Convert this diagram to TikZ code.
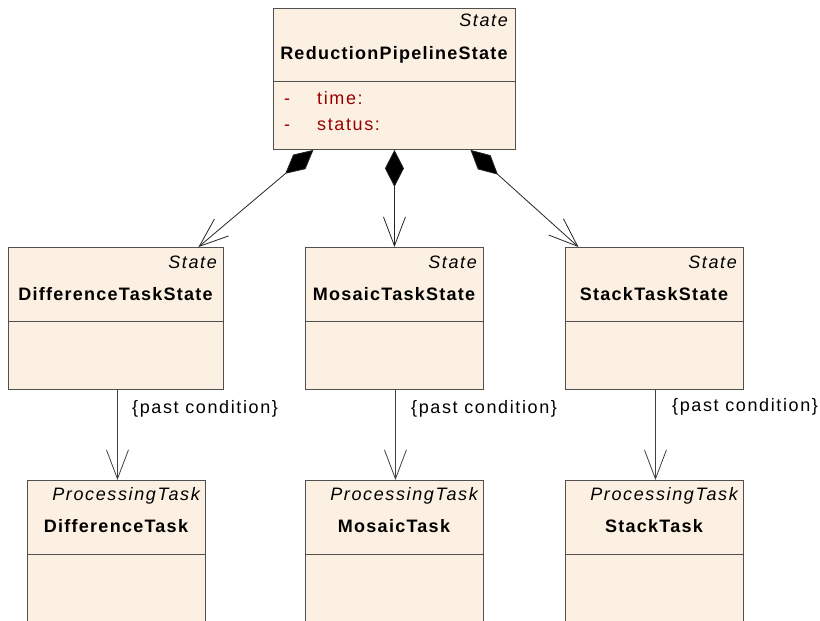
\documentclass[tikz,border=0pt]{standalone}
\usepackage{fontspec}
\setmainfont{Liberation Sans}
\usetikzlibrary{arrows.meta,calc}
\definecolor{boxfill}{RGB}{251,240,226}
\definecolor{boxdraw}{RGB}{80,80,80}
\definecolor{attrred}{RGB}{155,0,0}
\newcommand{\umlreg}{\fontsize{18}{21}\selectfont\addfontfeature{LetterSpace=9}}
\newcommand{\umlit}{\fontsize{18}{21}\selectfont\itshape\addfontfeature{LetterSpace=9}}
\newcommand{\umlbf}{\fontsize{18}{21}\selectfont\bfseries\addfontfeature{LetterSpace=7}}
\tikzset{
  umlbox/.style={draw=boxdraw, fill=boxfill, line width=0.9pt, rectangle, inner sep=0pt, anchor=north west},
  divider/.style={draw=boxdraw, line width=0.9pt},
  stereo/.style={font=\umlit, anchor=base east, inner sep=0pt},
  cname/.style={font=\umlbf, anchor=base, inner sep=0pt},
  attrtext/.style={font=\umlreg, text=attrred, anchor=base west, inner sep=0pt},
  lbl/.style={font=\umlreg, anchor=base west, inner sep=0pt},
  comp/.style={draw=black!85, line width=0.8pt, {Diamond[length=37pt,width=19pt,fill=black]}-{Straight Barb[length=29pt,width=22pt]}},
  dep/.style={draw=black!75, line width=0.8pt, -{Straight Barb[length=29pt,width=22pt]}}
}
\begin{document}
\begin{tikzpicture}[x=1pt,y=-1pt]
\clip (0,0) rectangle (820,621);
\fill[white] (0,0) rectangle (820,621);

% top box
\node[umlbox, minimum width=242pt, minimum height=141pt] (rps) at (273,8) {};
\draw[divider] ($(rps.north west)+(0,73)$) -- ($(rps.north east)+(0,73)$);
\node[stereo] (rpsS) at (508,27) {State};
\node[cname] (rpsN) at (394,59) {ReductionPipelineState};
\node[attrtext] (rpsA1) at (284,104) {-};
\node[attrtext] (rpsA2) at (317,104) {time:};
\node[attrtext] (rpsA3) at (284,130) {-};
\node[attrtext] (rpsA4) at (317,130) {status:};

% middle row
\node[umlbox, minimum width=215pt, minimum height=142pt] (dts) at (8,247) {};
\draw[divider] ($(dts.north west)+(0,74)$) -- ($(dts.north east)+(0,74)$);
\node[stereo] (dtsS) at (217,268) {State};
\node[cname] (dtsN) at (115.5,300) {DifferenceTaskState};

\node[umlbox, minimum width=178pt, minimum height=142pt] (mts) at (305,247) {};
\draw[divider] ($(mts.north west)+(0,74)$) -- ($(mts.north east)+(0,74)$);
\node[stereo] (mtsS) at (477,268) {State};
\node[cname] (mtsN) at (394,300) {MosaicTaskState};

\node[umlbox, minimum width=178pt, minimum height=142pt] (sts) at (565,247) {};
\draw[divider] ($(sts.north west)+(0,74)$) -- ($(sts.north east)+(0,74)$);
\node[stereo] (stsS) at (737,268) {State};
\node[cname] (stsN) at (654,300) {StackTaskState};

% bottom row
\node[umlbox, minimum width=178pt, minimum height=160pt] (dt) at (27,480) {};
\draw[divider] ($(dt.north west)+(0,74)$) -- ($(dt.north east)+(0,74)$);
\node[stereo] (dtS) at (200,500) {ProcessingTask};
\node[cname] (dtN) at (116,532) {DifferenceTask};

\node[umlbox, minimum width=178pt, minimum height=160pt] (mt) at (305,480) {};
\draw[divider] ($(mt.north west)+(0,74)$) -- ($(mt.north east)+(0,74)$);
\node[stereo] (mtS) at (478,500) {ProcessingTask};
\node[cname] (mtN) at (394,532) {MosaicTask};

\node[umlbox, minimum width=178pt, minimum height=160pt] (st) at (565,480) {};
\draw[divider] ($(st.north west)+(0,74)$) -- ($(st.north east)+(0,74)$);
\node[stereo] (stS) at (738,500) {ProcessingTask};
\node[cname] (stN) at (654,532) {StackTask};

% compositions
\draw[comp] ($(rps.south)+(-81,0)$) -- ($(dts.north)+(82.5,0)$);
\draw[comp] (rps.south) -- (mts.north);
\draw[comp] ($(rps.south)+(76,0)$) -- ($(sts.north)+(-76,0)$);

% dependencies
\draw[dep] ($(dts.south)+(1.5,0)$) -- ($(dt.north)+(1,0)$);
\draw[dep] ($(mts.south)+(1,0)$) -- ($(mt.north)+(1,0)$);
\draw[dep] ($(sts.south)+(1,0)$) -- ($(st.north)+(1,0)$);

\node[lbl] (l1) at (132,413) {\{past condition\}};
\node[lbl] (l2) at (411,413) {\{past condition\}};
\node[lbl] (l3) at (672,411) {\{past condition\}};
\end{tikzpicture}
\end{document}
